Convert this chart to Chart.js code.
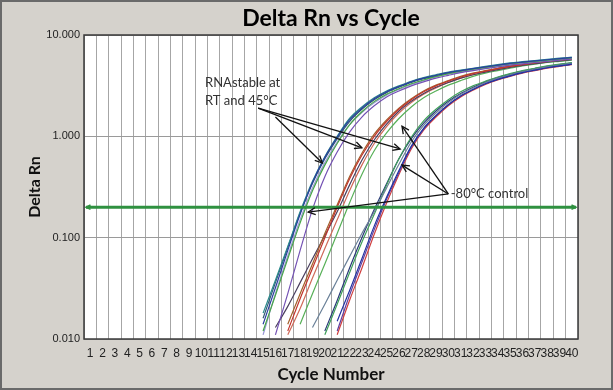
<!DOCTYPE html>
<html>
<head>
<meta charset="utf-8">
<script src="https://cdn.jsdelivr.net/npm/chart.js@4"></script>
<style>
  html, body { margin: 0; padding: 0; background: #d5d2cc; }
  #wrap { width: 613px; height: 390px; }
</style>
</head>
<body>
<div id="wrap"><canvas id="chart" width="613" height="390"></canvas></div>
<script>
// ===== Dados =====
const cycles = ['1','2','3','4','5','6','7','8','9','10','11','12','13','14','15','16','17','18','19','20',
  '21','22','23','24','25','26','27','28','29','30','31','32','33','34','35','36','37','38','39','40'];
const yTicks = [0.01, 0.1, 1, 10];
const threshold = 0.2;

// RNAstable (grupo mais cedo)
const rtA1 = pad(15, [0.014, 0.032, 0.075, 0.17, 0.35, 0.62, 0.98, 1.45, 1.9, 2.35, 2.75, 3.1, 3.45, 3.75, 4.0, 4.25, 4.45, 4.65, 4.85, 5.05, 5.25, 5.4, 5.55, 5.7, 5.85, 6.0]);
const rtA2 = pad(15, [0.018, 0.038, 0.082, 0.18, 0.36, 0.63, 1.0, 1.5, 1.95, 2.4, 2.8, 3.15, 3.5, 3.8, 4.05, 4.3, 4.5, 4.7, 4.9, 5.1, 5.3, 5.45, 5.6, 5.75, 5.9, 6.05]);
const rtA3 = pad(15, [0.012, 0.027, 0.062, 0.14, 0.29, 0.52, 0.85, 1.3, 1.75, 2.2, 2.6, 2.95, 3.3, 3.6, 3.9, 4.15, 4.4, 4.6, 4.8, 5.0, 5.2, 5.35, 5.5, 5.65, 5.8, 5.95]);
const rtA4 = pad(16, [0.011, 0.028, 0.075, 0.19, 0.4, 0.7, 1.1, 1.55, 2.0, 2.45, 2.8, 3.15, 3.45, 3.75, 4.0, 4.25, 4.45, 4.65, 4.85, 5.05, 5.2, 5.35, 5.5, 5.65, 5.8]);
const rtA5 = pad(15, [0.011, 0.028, 0.066, 0.15, 0.31, 0.55, 0.88, 1.3, 1.72, 2.15, 2.55, 2.9, 3.25, 3.55, 3.85, 4.1, 4.3, 4.5, 4.7, 4.9, 5.1, 5.25, 5.4, 5.55, 5.7, 5.85]);
const rtA6 = pad(15, [0.016, 0.036, 0.08, 0.175, 0.345, 0.6, 0.95, 1.4, 1.85, 2.3, 2.7, 3.05, 3.4, 3.7, 3.95, 4.2, 4.4, 4.6, 4.8, 5.0, 5.15, 5.3, 5.45, 5.6, 5.75, 5.9]);

// RNAstable (grupo intermediário)
const rtB1 = pad(17, [0.012, 0.025, 0.05, 0.1, 0.2, 0.38, 0.65, 1.0, 1.4, 1.85, 2.3, 2.75, 3.15, 3.5, 3.85, 4.15, 4.4, 4.65, 4.9, 5.1, 5.3, 5.5, 5.65, 5.8]);
const rtB2 = pad(17, [0.014, 0.028, 0.055, 0.11, 0.21, 0.4, 0.68, 1.05, 1.45, 1.9, 2.35, 2.8, 3.2, 3.55, 3.9, 4.2, 4.45, 4.7, 4.95, 5.15, 5.35, 5.5, 5.65, 5.8]);
const rtB3 = pad(16, [0.013, 0.021, 0.036, 0.062, 0.105, 0.18, 0.33, 0.58, 0.92, 1.32, 1.78, 2.22, 2.65, 3.05, 3.4, 3.75, 4.05, 4.3, 4.55, 4.8, 5.0, 5.2, 5.4, 5.55, 5.7]);
const rtB4 = pad(18, [0.014, 0.028, 0.055, 0.11, 0.22, 0.42, 0.72, 1.08, 1.5, 1.95, 2.4, 2.8, 3.2, 3.55, 3.9, 4.2, 4.45, 4.7, 4.95, 5.15, 5.35, 5.5, 5.65]);
const rtB5 = pad(17, [0.011, 0.02, 0.04, 0.078, 0.15, 0.29, 0.52, 0.85, 1.25, 1.7, 2.15, 2.6, 3.0, 3.4, 3.75, 4.05, 4.35, 4.6, 4.85, 5.05, 5.25, 5.45, 5.6, 5.75]);

// Controle -80°C
const ctl1 = pad(21, [0.015, 0.03, 0.062, 0.13, 0.25, 0.46, 0.8, 1.2, 1.6, 2.05, 2.5, 2.9, 3.3, 3.65, 3.95, 4.25, 4.5, 4.75, 4.95, 5.15]);
const ctl2 = pad(19, [0.013, 0.022, 0.038, 0.065, 0.11, 0.18, 0.31, 0.53, 0.88, 1.28, 1.7, 2.15, 2.6, 3.0, 3.4, 3.75, 4.05, 4.35, 4.6, 4.85, 5.05, 5.25]);
const ctl3 = pad(20, [0.011, 0.022, 0.045, 0.09, 0.17, 0.33, 0.6, 0.98, 1.42, 1.85, 2.3, 2.75, 3.15, 3.5, 3.85, 4.15, 4.45, 4.7, 4.95, 5.15, 5.35]);
const ctl4 = pad(21, [0.012, 0.027, 0.057, 0.12, 0.24, 0.44, 0.78, 1.18, 1.6, 2.05, 2.5, 2.9, 3.3, 3.65, 3.95, 4.25, 4.5, 4.75, 4.95, 5.15]);
const ctl5 = pad(21, [0.011, 0.024, 0.05, 0.108, 0.22, 0.42, 0.75, 1.15, 1.55, 2.0, 2.45, 2.85, 3.25, 3.6, 3.9, 4.2, 4.45, 4.7, 4.9, 5.1]);
const ctl6 = pad(20, [0.012, 0.024, 0.05, 0.1, 0.19, 0.34, 0.6, 0.95, 1.35, 1.78, 2.22, 2.65, 3.05, 3.45, 3.8, 4.1, 4.4, 4.65, 4.9, 5.1, 5.3]);

// Anotações (índice do ciclo, valor)
const noteRT = ['RNAstable at', 'RT and 45°C'];
const noteRTPos = [[9.3, 3.36], [9.3, 2.23]];
const arrowsRT = [[[13.6, 1.9], [22.0, 0.77]], [[13.6, 1.9], [25.1, 0.75]], [[15.0, 1.55], [18.8, 0.545]]];
const noteCtl = '-80°C control';
const noteCtlPos = [29.2, 0.27];
const arrowsCtl = [[[29.0, 0.27], [25.25, 1.26]], [[29.0, 0.27], [25.25, 0.52]], [[29.0, 0.27], [17.65, 0.179]]];

function pad(start, vals) {
  return cycles.map((c, i) => (i + 1 < start ? null : (vals[i + 1 - start] ?? null)));
}

// ===== Estilo das séries =====
const series = [
  [rtA1, '#2a3f9e'], [rtA2, '#2b8a8c'], [rtA3, '#46a646'], [rtA4, '#7452b4'], [rtA5, '#9a98d8'], [rtA6, '#2f5a74'],
  [rtB1, '#c2352e'], [rtB2, '#a2602c'], [rtB3, '#4a3f5e'], [rtB4, '#58b058'], [rtB5, '#d06a5a'],
  [ctl1, '#2233a2'], [ctl2, '#6a8098'], [ctl3, '#3f9f5a'], [ctl4, '#6040a0'], [ctl5, '#d04040'], [ctl6, '#2a3a78']
];

const datasets = series.map(([data, color], i) => ({
  label: 'S' + (i + 1),
  data,
  borderColor: color,
  borderWidth: 1.2,
  pointRadius: 0,
  fill: false,
  cubicInterpolationMode: 'monotone',
  spanGaps: false
}));

function drawArrow(ctx, x1, y1, x2, y2, size) {
  ctx.beginPath();
  ctx.moveTo(x1, y1);
  ctx.lineTo(x2, y2);
  ctx.stroke();
  const a = Math.atan2(y2 - y1, x2 - x1);
  ctx.beginPath();
  ctx.moveTo(x2 - size * Math.cos(a - 0.45), y2 - size * Math.sin(a - 0.45));
  ctx.lineTo(x2, y2);
  ctx.lineTo(x2 - size * Math.cos(a + 0.45), y2 - size * Math.sin(a + 0.45));
  ctx.stroke();
}

const frame = {
  id: 'frame',
  beforeDraw(chart) {
    const { ctx, chartArea: a, width, height } = chart;
    ctx.save();
    ctx.fillStyle = '#d5d2cc';
    ctx.fillRect(0, 0, width, height);
    ctx.strokeStyle = '#6a6a6a';
    ctx.lineWidth = 2;
    ctx.strokeRect(1, 1, width - 2, height - 2);
    ctx.fillStyle = '#ffffff';
    ctx.fillRect(a.left, a.top, a.right - a.left, a.bottom - a.top);
    ctx.restore();
  },
  afterDatasetsDraw(chart) {
    const { ctx, chartArea: a, scales: { x, y } } = chart;
    ctx.save();
    // linha de threshold
    const ty = y.getPixelForValue(threshold);
    ctx.strokeStyle = '#2f9140';
    ctx.lineWidth = 3;
    ctx.beginPath();
    ctx.moveTo(a.left + 2, ty);
    ctx.lineTo(a.right - 2, ty);
    ctx.stroke();
    ctx.lineWidth = 1.5;
    drawArrow(ctx, a.left + 10, ty, a.left + 2, ty, 5);
    drawArrow(ctx, a.right - 10, ty, a.right - 2, ty, 5);

    // moldura da área
    ctx.strokeStyle = '#3a3a3a';
    ctx.lineWidth = 1.5;
    ctx.strokeRect(a.left, a.top, a.right - a.left, a.bottom - a.top);

    // anotações
    const px = p => [x.getPixelForValue(p[0]), y.getPixelForValue(p[1])];
    ctx.strokeStyle = '#111';
    ctx.lineWidth = 1.3;
    arrowsRT.concat(arrowsCtl).forEach(([from, to]) => {
      const [x1, y1] = px(from);
      const [x2, y2] = px(to);
      drawArrow(ctx, x1, y1, x2, y2, 8);
    });
    ctx.fillStyle = '#333';
    ctx.font = '13px Lato, "Open Sans", sans-serif';
    ctx.textAlign = 'left';
    ctx.textBaseline = 'middle';
    noteRT.forEach((t, i) => {
      const [tx, tyy] = px(noteRTPos[i]);
      ctx.fillText(t, tx, tyy);
    });
    const [cx, cy] = px(noteCtlPos);
    ctx.fillText(noteCtl, cx, cy);
    ctx.restore();
  }
};

new Chart(document.getElementById('chart'), {
  type: 'line',
  data: { labels: cycles, datasets },
  plugins: [frame],
  options: {
    responsive: false,
    animation: false,
    layout: { padding: { left: 0, right: 35, top: 0, bottom: 0 } },
    plugins: {
      legend: { display: false },
      tooltip: { enabled: false },
      title: {
        display: true,
        fullSize: false,
        text: 'Delta Rn vs Cycle',
        color: '#000',
        font: { family: 'Lato, "Open Sans", sans-serif', weight: 'bold', size: 23, lineHeight: 1.2 },
        padding: { top: 5, bottom: 2.4 }
      }
    },
    scales: {
      x: {
        type: 'category',
        offset: true,
        grid: { offset: true, color: '#a6a6a6', drawTicks: false },
        border: { display: false },
        ticks: {
          autoSkip: false, maxRotation: 0, minRotation: 0, padding: 7, color: '#222',
          font: { family: '"Liberation Sans Narrow", "Liberation Sans", sans-serif', size: 12 }
        },
        title: {
          display: true, text: 'Cycle Number', color: '#111',
          font: { family: 'Lato, "Open Sans", sans-serif', weight: 'bold', size: 17, lineHeight: 1.2 },
          padding: { top: 0, bottom: 5 }
        },
        afterFit: s => { s.height = 51; }
      },
      y: {
        type: 'logarithmic',
        min: 0.01,
        max: 10,
        afterBuildTicks: s => { s.ticks = yTicks.map(v => ({ value: v })); },
        grid: { color: '#9a9a9a', drawTicks: false },
        border: { display: false },
        ticks: {
          padding: 4, color: '#222',
          font: { family: '"Liberation Sans", sans-serif', size: 11 },
          callback: v => Number(v).toFixed(3)
        },
        title: {
          display: true, text: 'Delta Rn', color: '#111',
          font: { family: 'Lato, "Open Sans", sans-serif', weight: 'bold', size: 16, lineHeight: 1.2 },
          padding: { top: 25, bottom: 0 }
        },
        afterFit: s => { s.width = 84; }
      }
    }
  }
});
</script>
</body>
</html>
